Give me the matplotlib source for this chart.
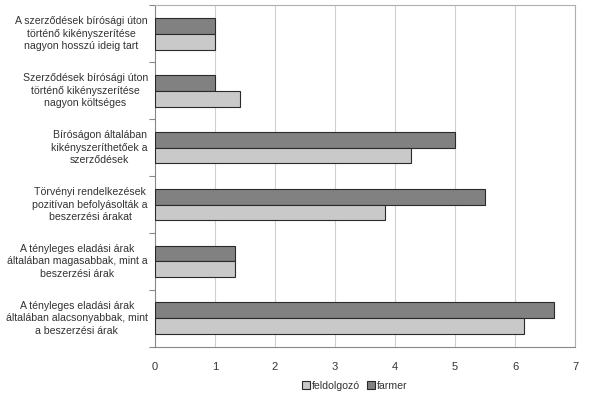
import matplotlib
matplotlib.use("Agg")
import matplotlib.pyplot as plt
import numpy as np

plt.rcParams['font.family'] = ['Liberation Sans', 'DejaVu Sans']

categories = [
    "A szerződések bírósági úton\ntörténő kikényszerítése\nnagyon hosszú ideig tart",
    "Szerződések bírósági úton\ntörténő kikényszerítése\nnagyon költséges",
    "Bíróságon általában\nkikényszeríthetőek a\nszerződések",
    "Törvényi rendelkezések\npozitívan befolyásolták a\nbeszerzési árakat",
    "A tényleges eladási árak\náltalában magasabbak, mint a\nbeszerzési árak",
    "A tényleges eladási árak\náltalában alacsonyabbak, mint\na beszerzési árak",
]
farmer = [1.0, 1.0, 5.0, 5.5, 1.33, 6.65]
feldolgozo = [1.0, 1.42, 4.27, 3.83, 1.33, 6.15]
xticks = [0, 1, 2, 3, 4, 5, 6, 7]

fig = plt.figure(figsize=(5.96, 3.96), dpi=100)
ax = fig.add_axes([0.26, 0.124, 0.705, 0.863])

y = np.arange(len(categories))
h = 0.28
ax.barh(y - h/2, farmer, height=h, color='#818181', edgecolor='#2a2a2a', linewidth=0.8, label='farmer', zorder=3)
ax.barh(y + h/2, feldolgozo, height=h, color='#c9c9c9', edgecolor='#2a2a2a', linewidth=0.8, label='feldolgozó', zorder=3)

ax.set_xlim(0, 7)
ax.set_ylim(len(categories) - 0.5, -0.5)
ax.set_xticks(xticks)
ax.set_xticklabels([str(t) for t in xticks], fontsize=8, color='#333333')
ax.xaxis.grid(True, color='#d0d0d0', linewidth=0.8, zorder=0)

ax.set_yticks(np.arange(-0.5, len(categories), 1.0))
ax.set_yticklabels([])
ax.tick_params(axis='y', length=4, color='#888888', direction='out')
ax.tick_params(axis='x', length=0, pad=11)
for yi, lab in zip(y, categories):
    ax.text(-0.12, yi, lab, ha='right', va='center', multialignment='center',
            fontsize=7.6, color='#333333', linespacing=1.3, transform=ax.transData)

for s in ['top', 'right']:
    ax.spines[s].set_color('#b0b0b0')
ax.spines['left'].set_color('#888888')
ax.spines['bottom'].set_color('#888888')

handles, labels = ax.get_legend_handles_labels()
leg = fig.legend([handles[1], handles[0]], [labels[1], labels[0]], loc='center',
                 bbox_to_anchor=(0.595, 0.025), ncol=2, frameon=False, fontsize=7.6,
                 handlelength=0.8, handleheight=0.8, handletextpad=0.2, columnspacing=0.6,
                 labelcolor='#333333')

fig.savefig('out.png', dpi=100)
